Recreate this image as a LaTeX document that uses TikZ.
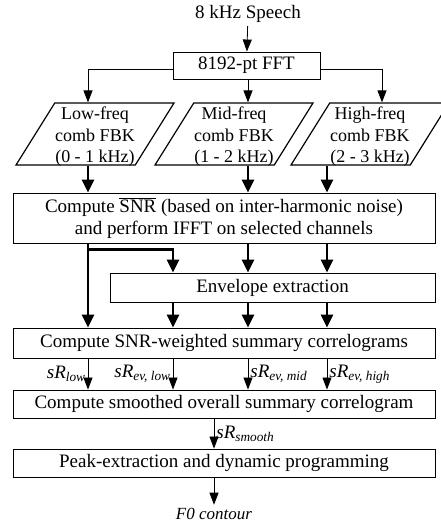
\documentclass[tikz,border=0pt]{standalone}
\usepackage{fontspec}
\setmainfont{Liberation Serif}
\usetikzlibrary{positioning,arrows.meta,calc,shapes.geometric}

\begin{document}
\begin{tikzpicture}[x=1pt, y=-1pt,
  blk/.style={draw, line width=0.9pt, align=center, inner sep=0pt,
              font=\fontsize{19}{21.5}\selectfont},
  fbk/.style={trapezium, trapezium left angle=58, trapezium right angle=122,
              trapezium stretches body, draw, line width=1.2pt,
              minimum width=158, minimum height=62, inner sep=0pt},
  fbktext/.style={align=center, inner sep=0pt,
              font=\fontsize{18}{21.5}\selectfont},
  thin/.style={-{Triangle[length=12pt,width=9pt]}, line width=0.8pt},
  thick/.style={-{Triangle[length=13pt,width=12pt]}, line width=2.4pt},
  lbl/.style={font=\fontsize{19}{21}\selectfont\itshape, inner sep=2pt},
]
\useasboundingbox (0,0) rectangle (440,525);

% columns of the connectors
\coordinate (c1) at (88,0);
\coordinate (c2) at (173,0);
\coordinate (c3) at (248,0);
\coordinate (c4) at (327,0);
\coordinate (c5) at (382,0);
\coordinate (c6) at (214,0);

\node[font=\fontsize{19}{21}\selectfont] (speech) at (248,14) {8 kHz Speech};
\node[blk, minimum width=147, minimum height=27] (fft) at (246.5,65.5) {8192-pt FFT};

\node[fbk] (low) at (95,134) {\rule{0pt}{62pt}};
\node[fbk] (mid) at (234,134) {\rule{0pt}{62pt}};
\node[fbk] (high) at (370,134) {\rule{0pt}{62pt}};
\node[fbktext] (lowtxt) at ([yshift=-3pt]low.center) {Low-freq\\comb FBK\\(0 - 1 kHz)};
\node[fbktext] (midtxt) at ([yshift=-3pt]mid.center) {Mid-freq\\comb FBK\\(1 - 2 kHz)};
\node[fbktext] (hightxt) at ([yshift=-3pt]high.center) {High-freq\\comb FBK\\(2 - 3 kHz)};

\node[blk, minimum width=422, minimum height=50] (snr) at (224,218)
  {Compute \ensuremath{\overline{\mbox{SNR}}} (based on inter-harmonic noise)\\
   and perform IFFT on selected channels};
\node[blk, minimum width=325, minimum height=29] (env) at (272.5,287.5) {Envelope extraction};
\node[blk, minimum width=422, minimum height=30] (corr) at (224,343)
  {Compute SNR-weighted summary correlograms};
\node[blk, minimum width=422, minimum height=28] (smooth) at (224,404)
  {Compute smoothed overall summary correlogram};
\node[blk, minimum width=422, minimum height=28] (peak) at (224,463)
  {Peak-extraction and dynamic programming};
\node[font=\fontsize{17}{19}\selectfont\itshape] (f0) at (214,514) {F0 contour};

% FFT stage
\draw[thin] (speech) -- (fft);
\draw[thin] ([yshift=-4pt]fft.west) -| (low.north -| c1);
\draw[thin] (fft.south -| c3) -- (mid.north -| c3);
\draw[thin] ([yshift=-4pt]fft.east) -| (high.north -| c5);

% filterbanks into SNR
\draw[thick] (low.south -| c1) -- (snr.north -| c1);
\draw[thick] (mid.south -| c3) -- (snr.north -| c3);
\draw[thick] (high.south -| c4) -- (snr.north -| c4);

% SNR into envelope and correlograms
\coordinate (split) at ($(snr.south -| c1)+(0,6)$);
\draw[thick] (snr.south -| c1) -- (corr.north -| c1);
\draw[thick] (split) -| (env.north -| c2);
\draw[thick] (snr.south -| c3) -- (env.north -| c3);
\draw[thick] (snr.south -| c4) -- (env.north -| c4);
\draw[thick] (env.south -| c2) -- (corr.north -| c2);
\draw[thick] (env.south -| c3) -- (corr.north -| c3);
\draw[thick] (env.south -| c4) -- (corr.north -| c4);

% summary correlograms
\draw[thin] (corr.south -| c1) -- node[lbl, left] {sR\textsubscript{low}} (smooth.north -| c1);
\draw[thin] (corr.south -| c2) -- node[lbl, left] {sR\textsubscript{ev, low}} (smooth.north -| c2);
\draw[thin] (corr.south -| c3) -- node[lbl, right] {sR\textsubscript{ev, mid}} (smooth.north -| c3);
\draw[thin] (corr.south -| c4) -- node[lbl, right] {sR\textsubscript{ev, high}} (smooth.north -| c4);
\draw[thin] (smooth.south -| c6) -- node[lbl, right] {sR\textsubscript{smooth}} (peak.north -| c6);
\draw[thin] (peak.south -| c6) -- (f0);
\end{tikzpicture}
\end{document}
